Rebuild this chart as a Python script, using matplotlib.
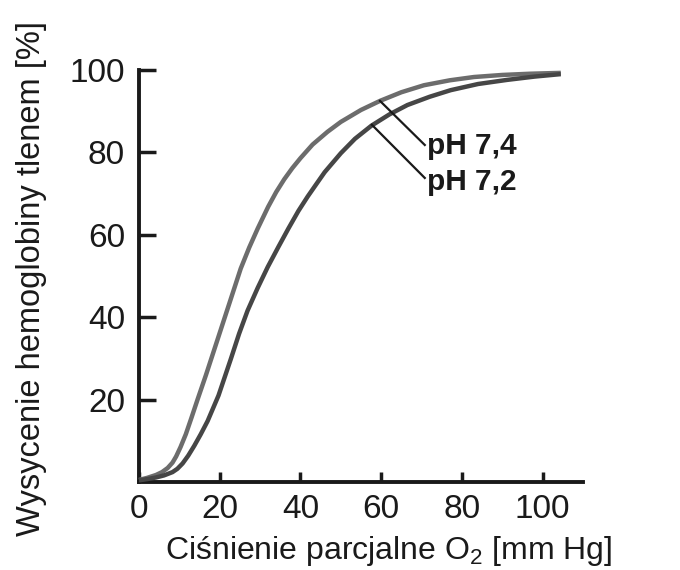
import matplotlib
matplotlib.use("Agg")
import matplotlib.pyplot as plt

plt.rcParams['font.family'] = ['Liberation Sans', 'DejaVu Sans']
plt.rcParams['mathtext.fontset'] = 'custom'
plt.rcParams['mathtext.rm'] = 'Liberation Sans'
plt.rcParams['mathtext.it'] = 'Liberation Sans:italic'

# Data
po2_74 = [0, 2, 4.2, 5.7, 7.1, 8.3, 9.2, 10.3, 11.6, 13, 14.5, 16.6, 18.6, 22, 25.2, 27.3, 29.4,
          32, 34, 36, 38, 40, 43, 46.7, 50, 55, 59.7, 65, 70.6, 77, 83, 90, 97, 104.5]
sat_74 = [0.5, 1.0, 1.7, 2.4, 3.4, 4.7, 6.2, 8.5, 11.6, 15.6, 20, 26, 32, 42.2, 51.8, 56.9, 61.5,
          66.8, 70.4, 73.5, 76.2, 78.6, 81.9, 85, 87.4, 90.3, 92.5, 94.6, 96.3, 97.5, 98.3,
          98.8, 99.1, 99.3]

po2_72 = [0, 2, 4.2, 6.2, 8.3, 9.5, 10.8, 12.2, 13.7, 15.3, 17, 19.7, 22.8, 24.8, 26.9, 29.4,
          31.9, 34.5, 37, 39.5, 41.8, 44, 46, 50, 53.5, 57.6, 62, 66.5, 72, 77.2, 84, 91.2,
          98, 104.5]
sat_72 = [0.4, 0.7, 1.1, 1.6, 2.4, 3.2, 4.5, 6.4, 8.8, 11.6, 14.8, 21, 30, 36.0, 41.6, 47.1,
          52.2, 57, 61.5, 65.8, 69.3, 72.4, 75.2, 79.8, 83.3, 86.5, 89.2, 91.5, 93.5, 95.1,
          96.6, 97.6, 98.4, 99.0]

x_ticks = [0, 20, 40, 60, 80, 100]
y_ticks = [20, 40, 60, 80, 100]
labels = ['pH 7,4', 'pH 7,2']
xlabel = 'Ciśnienie parcjalne O$_2$ [mm Hg]'
ylabel = 'Wysycenie hemoglobiny tlenem [%]'

fig = plt.figure(figsize=(6.8, 5.7), dpi=100)
ax = fig.add_axes([139/680, 1-482/570, (583-139)/680, (482-70)/570])

ax.plot(po2_74, sat_74, color='#6c6c6c', lw=3.2, solid_capstyle='butt',
        solid_joinstyle='round', clip_on=False, zorder=3)
ax.plot(po2_72, sat_72, color='#464646', lw=3.2, solid_capstyle='butt',
        solid_joinstyle='round', clip_on=False, zorder=3)

# leader lines and labels
ax.plot([59.7, 70.8], [92.5, 81.8], color='#1a1a1a', lw=1.6, clip_on=False, zorder=4)
ax.plot([57.7, 70.8], [86.7, 73.8], color='#1a1a1a', lw=1.6, clip_on=False, zorder=4)
ax.text(71.3, 79.6, labels[0], fontsize=21.5, fontweight='bold', color='#1a1a1a',
        va='baseline', ha='left')
ax.text(71.3, 70.9, labels[1], fontsize=21.5, fontweight='bold', color='#1a1a1a',
        va='baseline', ha='left')

ax.set_xlim(0, 110)
ax.set_ylim(0, 100)
ax.set_xticks(x_ticks)
ax.set_yticks(y_ticks)
ax.set_xticklabels([str(v) for v in x_ticks])
ax.set_yticklabels([str(v) for v in y_ticks])

for s in ['top', 'right']:
    ax.spines[s].set_visible(False)
for s in ['left', 'bottom']:
    ax.spines[s].set_linewidth(2.8)
    ax.spines[s].set_color('#1a1a1a')
    ax.spines[s].set_capstyle('projecting')

ax.tick_params(axis='y', direction='in', length=12.5, width=2.5, color='#1a1a1a',
               labelsize=24, labelcolor='#1a1a1a', pad=10)
ax.tick_params(axis='x', direction='in', length=7, width=2.5, color='#1a1a1a',
               labelsize=24, labelcolor='#1a1a1a', pad=9)

fig.text(389/680, 1-559/570, xlabel, fontsize=23, color='#1a1a1a', ha='center', va='baseline')
fig.text(32/680, 1-279/570, ylabel, fontsize=23.5, color='#1a1a1a', ha='center', va='center',
         rotation=90)

fig.savefig('out.png', dpi=100)
